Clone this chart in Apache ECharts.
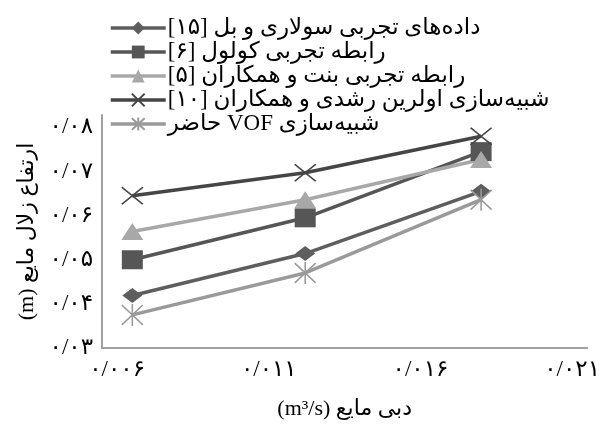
<!DOCTYPE html>
<html>
<head>
<meta charset="utf-8">
<script src="https://cdn.jsdelivr.net/npm/echarts@6/dist/echarts.min.js"></script>
<style>
  html, body { margin: 0; padding: 0; background: #fff; }
  #chart { width: 603px; height: 425px; }
</style>
</head>
<body>
<div id="chart"></div>
<script>
// Liquid flow rate (m³/s) at each measured point
const flowRates = [0.0065, 0.0122, 0.018];

// Clear liquid height (m) for each data source
const solariBell   = [0.0419, 0.0514, 0.0655];
const kolol        = [0.0500, 0.0595, 0.0745];
const bentEtAl     = [0.0564, 0.0636, 0.0727];
const rashdiEtAl   = [0.0645, 0.0697, 0.0780];
const vofPresent   = [0.0375, 0.0470, 0.0636];

const seriesNames = [
  'داده‌های تجربی سولاری و بل [۱۵]',
  'رابطه تجربی کولول [۶]',
  'رابطه تجربی بنت و همکاران [۵]',
  'شبیه‌سازی اولرین رشدی و همکاران [۱۰]',
  'شبیه‌سازی VOF حاضر'
];

// Axis ticks and their Persian labels
const xTickValues = [0.006, 0.011, 0.016, 0.021];
const xTickLabels = ['۰/۰۰۶', '۰/۰۱۱', '۰/۰۱۶', '۰/۰۲۱'];
const yTickValues = [0.03, 0.04, 0.05, 0.06, 0.07, 0.08];
const yTickLabels = ['۰/۰۳', '۰/۰۴', '۰/۰۵', '۰/۰۶', '۰/۰۷', '۰/۰۸'];

const xTitle = 'دبی مایع (m³/s)';
const yTitle = 'ارتفاع زلال مایع (m)';

const RTL = s => '\u202B' + s + '\u202C';
const FONT = '"Liberation Serif", "DejaVu Sans", serif';

const crossPath = 'path://M0,0L20,20M20,0L0,20';
const starPath = 'path://M10,0L10,20M1,1L19,19M19,1L1,19';

function pairs(ys) { return flowRates.map((x, i) => [x, ys[i]]); }

function makeSeries(name, ys, color, symbol, size, stroke) {
  return {
    name: name,
    type: 'line',
    data: pairs(ys),
    symbol: symbol,
    symbolSize: size,
    showAllSymbol: true,
    lineStyle: { color: color, width: 3.5 },
    itemStyle: stroke
      ? { color: 'transparent', borderColor: color, borderWidth: 1.6 }
      : { color: color, borderWidth: 0 },
    emphasis: { disabled: true },
    z: 2
  };
}

const chart = echarts.init(document.getElementById('chart'), null, { renderer: 'canvas' });

chart.setOption({
  animation: false,
  backgroundColor: '#fff',
  grid: { left: 102, right: 15, top: 115, bottom: 77, containLabel: false },
  legend: {
    orient: 'vertical',
    left: 104,
    top: 11,
    itemWidth: 55,
    itemHeight: 16,
    itemGap: 0,
    lineStyle: { width: 3.5 },
    formatter: name => RTL(name),
    textStyle: { fontFamily: FONT, fontSize: 23, color: '#000', lineHeight: 24, padding: [0, 0, 0, -3] },
    data: seriesNames
  },
  xAxis: {
    type: 'value',
    min: 0.0055,
    max: 0.0215,
    name: RTL(xTitle),
    nameLocation: 'middle',
    nameGap: 50,
    nameTextStyle: { fontFamily: FONT, fontSize: 22, color: '#000' },
    axisLine: { show: true, lineStyle: { color: '#a0a0a0', width: 2 } },
    axisTick: { show: false },
    splitLine: { show: false },
    axisLabel: {
      customValues: xTickValues,
      formatter: v => xTickLabels[xTickValues.findIndex(t => Math.abs(t - v) < 1e-9)] || '',
      fontFamily: FONT, fontSize: 23, color: '#000', margin: 10
    }
  },
  yAxis: {
    type: 'value',
    min: 0.03,
    max: 0.0828,
    name: RTL(yTitle),
    nameLocation: 'middle',
    nameRotate: 90,
    nameGap: 59,
    nameTextStyle: { fontFamily: FONT, fontSize: 22, color: '#000' },
    axisLine: { show: true, lineStyle: { color: '#a0a0a0', width: 2 } },
    axisTick: { show: false },
    splitLine: { show: false },
    axisLabel: {
      customValues: yTickValues,
      formatter: v => yTickLabels[yTickValues.findIndex(t => Math.abs(t - v) < 1e-9)] || '',
      fontFamily: FONT, fontSize: 23, color: '#000', margin: 9
    }
  },
  series: [
    makeSeries(seriesNames[0], solariBell, '#5e5e5e', 'diamond', [20, 15], false),
    makeSeries(seriesNames[1], kolol, '#565656', 'rect', [21, 19], false),
    makeSeries(seriesNames[2], bentEtAl, '#a8a8a8', 'triangle', [22, 17], false),
    makeSeries(seriesNames[3], rashdiEtAl, '#454545', crossPath, [21, 17], true),
    makeSeries(seriesNames[4], vofPresent, '#9a9a9a', starPath, [21, 22], true)
  ]
});
</script>
</body>
</html>
